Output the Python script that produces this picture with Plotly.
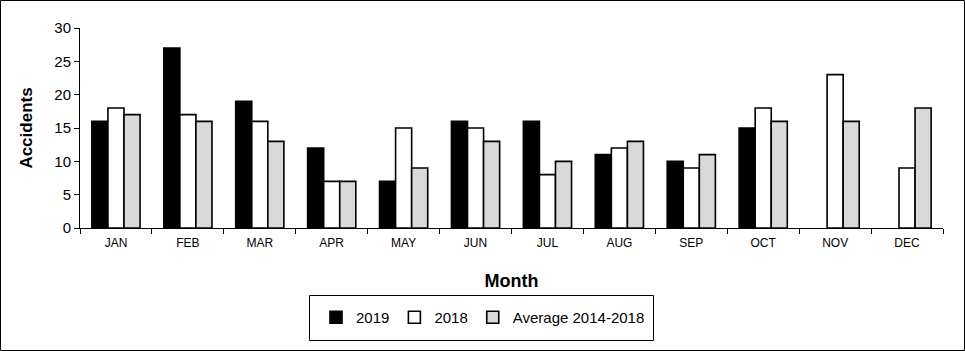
import plotly.graph_objects as go

months = ["JAN", "FEB", "MAR", "APR", "MAY", "JUN", "JUL", "AUG", "SEP", "OCT", "NOV", "DEC"]
s2019 = [16, 27, 19, 12, 7, 16, 16, 11, 10, 15, None, None]
s2018 = [18, 17, 16, 7, 15, 15, 8, 12, 9, 18, 23, 9]
avg_2014_2018 = [17, 16, 13, 7, 9, 13, 10, 13, 11, 16, 16, 18]
y_ticks = [0, 5, 10, 15, 20, 25, 30]

FONT = "Arial, Liberation Sans, sans-serif"
W, H = 965, 351
L, R, T, B = 80, 22, 28, 123
PW = W - L - R
PH = H - T - B

def px_to_paper_x(px):
    return (px - L) / PW

def px_to_paper_y(py):
    return (H - B - py) / PH

fig = go.Figure()
line = dict(color="black", width=1.6)
fig.add_trace(go.Bar(x=months, y=s2019, name="2019", marker=dict(color="black", line=line)))
fig.add_trace(go.Bar(x=months, y=s2018, name="2018", marker=dict(color="white", line=line)))
fig.add_trace(go.Bar(x=months, y=avg_2014_2018, name="Average 2014-2018", marker=dict(color="#D9D9D9", line=line)))

fig.update_layout(
    width=W, height=H,
    margin=dict(l=L, r=R, t=T, b=B),
    paper_bgcolor="white", plot_bgcolor="white",
    font=dict(family=FONT, color="black"),
    barmode="group", bargap=0.33, bargroupgap=0,
    showlegend=True,
    legend=dict(
        orientation="h",
        x=px_to_paper_x(483), xanchor="center",
        y=px_to_paper_y(317.5), yanchor="middle",
        font=dict(size=15, family=FONT),
        bgcolor="rgba(0,0,0,0)", borderwidth=0,
        traceorder="normal",
    ),
    xaxis=dict(
        showline=True, linecolor="black", linewidth=1,
        ticks="outside", tickson="boundaries", ticklen=5, tickcolor="black",
        tickfont=dict(size=12), ticklabelstandoff=4,
        showgrid=False, automargin=False,
        title=dict(text="<b>Month</b>", font=dict(size=18), standoff=24),
    ),
    yaxis=dict(
        range=[0, 30], tickvals=y_ticks,
        showline=True, linecolor="black", linewidth=1,
        ticks="outside", ticklen=5, tickcolor="black",
        tickfont=dict(size=15), showgrid=False, zeroline=False, automargin=False,
        title=dict(text="<b>Accidents</b>", font=dict(size=17), standoff=17),
    ),
    shapes=[
        dict(type="rect", xref="paper", yref="paper",
             x0=px_to_paper_x(0.5), x1=px_to_paper_x(964.5),
             y0=px_to_paper_y(350.5), y1=px_to_paper_y(0.5),
             line=dict(color="black", width=1), fillcolor="rgba(0,0,0,0)", layer="below"),
        dict(type="rect", xref="paper", yref="paper",
             x0=px_to_paper_x(309.5), x1=px_to_paper_x(653.5),
             y0=px_to_paper_y(340.5), y1=px_to_paper_y(295.5),
             line=dict(color="black", width=1), fillcolor="rgba(0,0,0,0)", layer="below"),
    ],
)

fig.write_html(
    "out.html",
    config={"displayModeBar": False},
    post_script="document.body.style.margin='0';document.body.style.padding='0';",
)
